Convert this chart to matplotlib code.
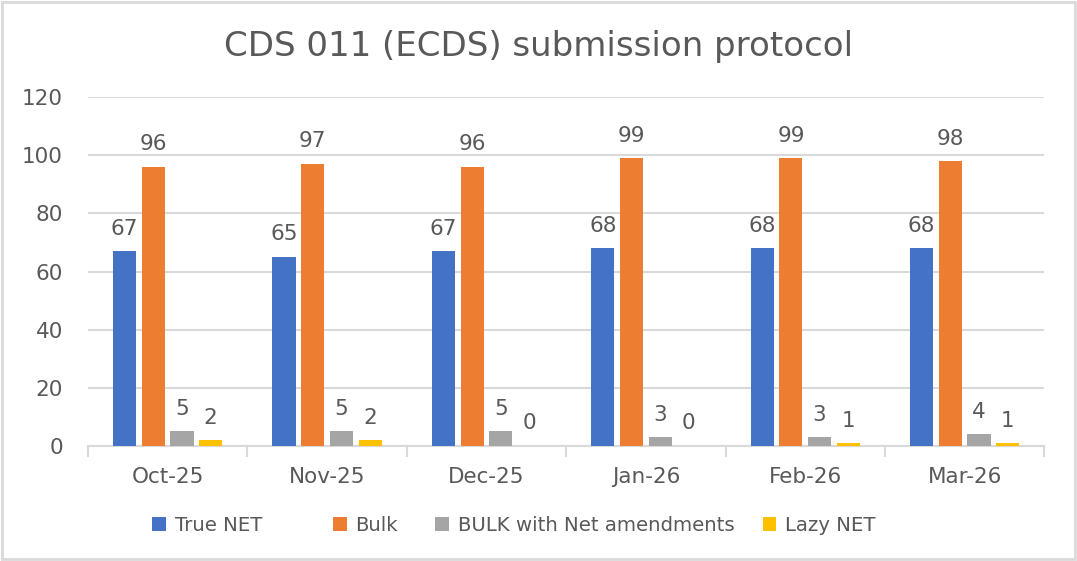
import matplotlib
matplotlib.use("Agg")
import matplotlib.pyplot as plt
import numpy as np
from matplotlib.patches import Rectangle

categories = ["Oct-25", "Nov-25", "Dec-25", "Jan-26", "Feb-26", "Mar-26"]
series_names = ["True NET", "Bulk", "BULK with Net amendments", "Lazy NET"]
true_net = [67, 65, 67, 68, 68, 68]
bulk = [96, 97, 96, 99, 99, 98]
bulk_amend = [5, 5, 5, 3, 3, 4]
lazy_net = [2, 2, 0, 0, 1, 1]
colors = ["#4472C4", "#ED7D31", "#A5A5A5", "#FFC000"]

plt.rcParams['font.family'] = ['DejaVu Sans']
fig = plt.figure(figsize=(10.77, 5.61), dpi=100)
fig.patches.append(Rectangle((0.002, 0.003), 0.996, 0.994, transform=fig.transFigure,
                             fill=False, edgecolor="#D9D9D9", linewidth=2.0))
ax = fig.add_axes([0.0817, 0.205, 0.888, 0.622])

x = np.arange(len(categories))
width = 0.145
step = 0.18
text_col = "#595959"
handles = []
for i, (vals, name) in enumerate(zip([true_net, bulk, bulk_amend, lazy_net], series_names)):
    pos = x + (i - 1.5) * step
    bc = ax.bar(pos, vals, width, color=colors[i], label=name, zorder=3)
    handles.append(bc)
    for p, v in zip(pos, vals):
        ax.annotate(str(v), (p, v), xytext=(0, 9), textcoords="offset points",
                    ha="center", va="bottom", fontsize=15.5, color=text_col)

ax.set_xlim(-0.5, len(categories) - 0.5)
ax.set_ylim(0, 120)
ax.set_yticks(range(0, 121, 20))
ax.yaxis.grid(True, color="#D9D9D9", linewidth=1.5, zorder=0)
ax.set_axisbelow(True)
for s in ["top", "right", "left"]:
    ax.spines[s].set_visible(False)
ax.spines["bottom"].set_color("#D9D9D9")
ax.spines["bottom"].set_linewidth(1.5)
ax.set_xticks(x)
ax.set_xticklabels(categories)
ax.set_xticks(np.arange(-0.5, len(categories), 1), minor=True)
ax.tick_params(axis="x", which="major", length=0, pad=15, labelsize=15.5, labelcolor=text_col)
ax.tick_params(axis="x", which="minor", length=8, color="#D9D9D9", width=1.5)
ax.tick_params(axis="y", length=0, pad=18, labelsize=15.5, labelcolor=text_col)

fig.text(0.5, 0.918, "CDS 011 (ECDS) submission protocol", ha="center", va="center",
         fontsize=24.5, color=text_col)

legend_x = [0.141, 0.309, 0.404, 0.708]
for h, name, lx in zip(handles, series_names, legend_x):
    lg = fig.legend([h], [name], loc="center left", bbox_to_anchor=(lx, 0.063),
                    frameon=False, fontsize=14.2, handlelength=0.7, handleheight=0.7,
                    handletextpad=0.45, borderpad=0, borderaxespad=0, labelcolor=text_col)
fig.savefig("out.png", dpi=100)
